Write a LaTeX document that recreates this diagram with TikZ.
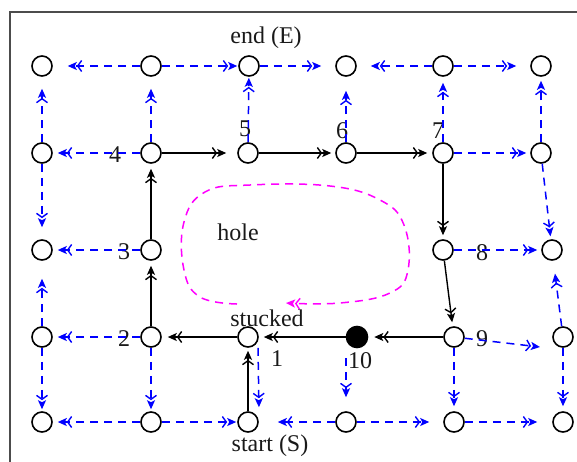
\documentclass[tikz,border=0pt]{standalone}
\usepackage{fontspec}
\setmainfont{Liberation Serif}
\usetikzlibrary{arrows.meta}
\definecolor{mag}{RGB}{255,0,255}
\definecolor{blu}{RGB}{0,0,255}
\begin{document}
\begin{tikzpicture}[x=1pt,y=-1pt,
  vx/.style={circle,draw,line width=1.6pt,minimum size=20pt,inner sep=0pt},
  vf/.style={vx,fill=black,minimum size=21pt},
  lab/.style={inner sep=0pt,font=\fontsize{24}{26}\selectfont,text=black!90},
  headtip/.style={-{Straight Barb[length=4pt,width=11pt,line width=1.4pt]Stealth[length=9pt,width=8pt,inset=2pt]}},
  bl/.style={blu,line width=1.5pt,dash pattern=on 8pt off 6pt,headtip,shorten >=4pt},
  bk/.style={black,line width=1.4pt,headtip,shorten >=4pt},
  hl/.style={mag,line width=1.5pt,dash pattern=on 8pt off 6pt,headtip}]
\useasboundingbox (0,0) rectangle (577,461);
\draw[line width=1.6pt,black!70] (10,480) -- (10,12) -- (600,12);
% row 1
\node[vx] (a1) at (42,66) {};
\node[vx] (a2) at (151,66) {};
\node[vx] (a3) at (249,66) {};
\node[vx] (a4) at (346,66) {};
\node[vx] (a5) at (443,66) {};
\node[vx] (a6) at (541,66) {};
% row 2
\node[vx] (b1) at (42,153) {};
\node[vx] (b2) at (151,153) {};
\node[vx] (b3) at (248,153) {};
\node[vx] (b4) at (346,153) {};
\node[vx] (b5) at (443,153) {};
\node[vx] (b6) at (541,153) {};
% row 3
\node[vx] (c1) at (42,250) {};
\node[vx] (c2) at (151,250) {};
\node[vx] (c5) at (443,250) {};
\node[vx] (c6) at (552,250) {};
% row 4
\node[vx] (d1) at (42,337) {};
\node[vx] (d2) at (151,337) {};
\node[vx] (d3) at (248,337) {};
\node[vf] (d4) at (357,337) {};
\node[vx] (d5) at (454,337) {};
\node[vx] (d6) at (563,337) {};
% row 5
\node[vx] (e1) at (42,422) {};
\node[vx] (e2) at (151,422) {};
\node[vx] (e3) at (248,422) {};
\node[vx] (e4) at (346,422) {};
\node[vx] (e5) at (454,422) {};
\node[vx] (e6) at (563,422) {};
\coordinate (q9) at (540,347);
% labels
\node[lab] (tE) at (266,38) {end (E)};
\node[lab] (t4) at (115,155) {4};
\node[lab] (t5) at (245,129) {5};
\node[lab] (t6) at (342,131) {6};
\node[lab] (t7) at (438,131) {7};
\node[lab] (t3) at (124,252) {3};
\node[lab] (t8) at (482,253) {8};
\node[lab] (t2) at (124,339) {2};
\node[lab] (t9) at (482,339) {9};
\node[lab] (t1) at (277,359) {1};
\node[lab] (t10) at (360,361) {10};
\node[lab] (tst) at (267,318) {stucked};
\node[lab] (tS) at (270,446) {start (S)};
\node[lab] (th) at (238,232) {hole};
% blue dashed
\draw[bl,shorten >=15pt] (a2) -- (a1);
\draw[bl,shorten >=1pt] (a2) -- (a3);
\draw[bl,shorten >=14pt] (a3) -- (a4);
\draw[bl,shorten >=14pt] (a5) -- (a4);
\draw[bl,shorten >=14pt] (a5) -- (a6);
\draw[bl,shorten >=12pt] (b1) -- (a1);
\draw[bl,shorten >=12pt] (b2) -- (a2);
\draw[bl,shorten >=1pt] (b3) -- (a3);
\draw[bl,shorten >=14pt] (b4) -- (a4);
\draw[bl,shorten >=6pt] (b5) -- (a5);
\draw[bl] (b6) -- (a6);
\draw[bl,shorten >=5pt] (b2) -- (b1);
\draw[bl] (b5) -- (b6);
\draw[bl,shorten >=12pt] (b1) -- (c1);
\draw[bl,shorten >=3pt] (b6) -- (c6);
\draw[bl,shorten >=5pt] (c2) -- (c1);
\draw[bl] (c5) -- (c6);
\draw[bl,shorten >=18pt] (d1) -- (c1);
\draw[bl,shorten >=13pt] (d6) -- (c6);
\draw[bl,shorten >=5pt] (d2) -- (d1);
\draw[bl,shorten >=0pt] (d5) -- (q9);
\draw[bl,shorten >=2pt] (d1) -- (e1);
\draw[bl,shorten >=2pt] (d2) -- (e2);
\draw[bl,shorten >=4pt] ([xshift=10pt]d3.south) -- ([xshift=11pt]e3.north);
\draw[bl,shorten >=14pt] ([xshift=-11pt,yshift=-10pt]d4.south) -- (e4);
\draw[bl,shorten >=5pt] (d5) -- (e5);
\draw[bl,shorten >=5pt] (d6) -- (e6);
\draw[bl,shorten >=5pt] (e2) -- (e1);
\draw[bl,shorten >=1pt] (e2) -- (e3);
\draw[bl,shorten >=19pt] (e4) -- (e3);
\draw[bl,shorten >=14pt] (e4) -- (e5);
\draw[bl,shorten >=15pt] (e5) -- (e6);
% black solid path
\draw[bk,shorten >=3pt] (e3) -- (d3);
\draw[bk,shorten >=6pt] (d3) -- (d2);
\draw[bk,shorten >=6pt] (d5) -- (d4);
\draw[bk,shorten >=5pt] (d4) -- (d3);
\draw[bk,shorten >=5pt] (d2) -- (c2);
\draw[bk,shorten >=5pt] (c2) -- (b2);
\draw[bk,shorten >=11pt] (b2) -- (b3);
\draw[bk,shorten >=4pt] (b3) -- (b4);
\draw[bk,shorten >=5pt] (b4) -- (b5);
\draw[bk,shorten >=4pt] (b5) -- (c5);
\draw[bk,shorten >=4pt] (c5) -- (d5);
% hole
\draw[hl] plot[smooth,tension=0.7] coordinates {(237,304) (200,297) (184,270) (184,222) (205,192) (250,185) (330,186) (380,200) (404,225) (408,270) (390,293) (340,303) (286,303)};
\end{tikzpicture}
\end{document}
